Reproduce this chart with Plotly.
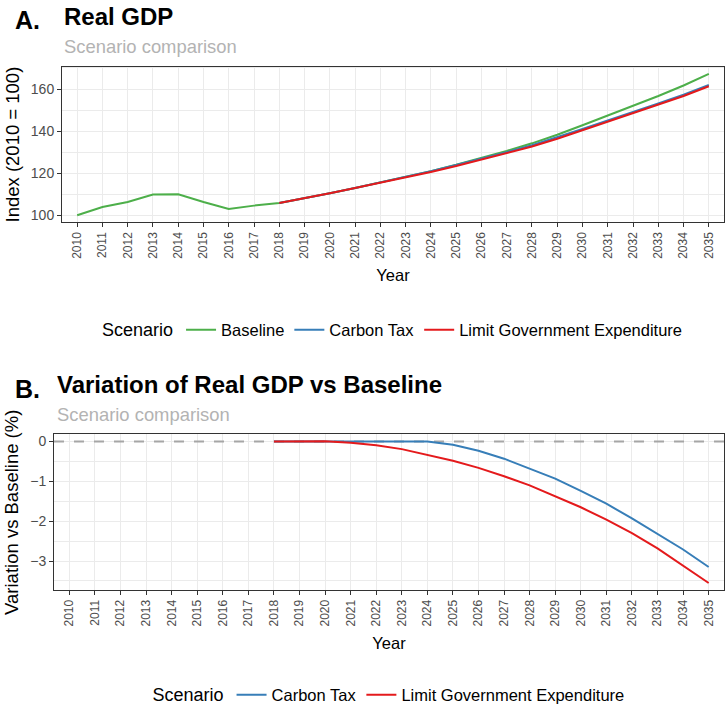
import plotly.graph_objects as go

# ---------------- data ----------------
years = list(range(2010, 2036))
years_scen = list(range(2018, 2036))

baseline = [100.0, 103.9, 106.3, 109.9, 110.0, 106.3, 103.0, 104.6, 105.8, 108.0,
            110.5, 113.0, 115.6, 118.2, 121.0, 124.0, 127.2, 130.6, 134.2, 138.3,
            142.8, 147.4, 151.9, 156.7, 161.7, 167.2]
carbon_tax = [105.8, 108.0, 110.5, 113.0, 115.6, 118.2, 121.0, 123.9, 126.9, 130.0,
              133.3, 137.0, 141.0, 145.1, 149.0, 153.1, 157.3, 161.9]
limit_gov = [105.8, 108.0, 110.5, 113.0, 115.5, 118.0, 120.6, 123.4, 126.4, 129.5,
             132.7, 136.4, 140.4, 144.5, 148.4, 152.5, 156.7, 161.3]

var_carbon_tax = [0.0, 0.0, 0.0, 0.0, 0.0, 0.0, 0.0, -0.08, -0.23, -0.43,
                  -0.67, -0.93, -1.24, -1.56, -1.93, -2.31, -2.71, -3.15]
var_limit_gov = [0.0, 0.0, 0.01, -0.03, -0.09, -0.19, -0.33, -0.48, -0.66, -0.87,
                 -1.10, -1.37, -1.65, -1.96, -2.30, -2.68, -3.11, -3.55]
reference_level = 0

year_ticks = years
a_yticks = [100, 120, 140, 160]
b_yticks = [0, -1, -2, -3]

colors = {"Baseline": "#4DAF4A", "Carbon Tax": "#377EB8",
          "Limit Government Expenditure": "#E41A1C"}

FONT = "Liberation Sans, Arial, Helvetica, sans-serif"
W, H = 725, 713
xrange = [2009.4, 2035.6]


def px_x(p):
    return p / W


def px_y(p):
    return 1 - p / H


fig = go.Figure()

# Panel A
fig.add_trace(go.Scatter(x=years, y=baseline, mode="lines", name="Baseline",
                         line=dict(color=colors["Baseline"], width=2),
                         xaxis="x", yaxis="y", legend="legend"))
fig.add_trace(go.Scatter(x=years_scen, y=carbon_tax, mode="lines", name="Carbon Tax",
                         line=dict(color=colors["Carbon Tax"], width=2),
                         xaxis="x", yaxis="y", legend="legend"))
fig.add_trace(go.Scatter(x=years_scen, y=limit_gov, mode="lines",
                         name="Limit Government Expenditure",
                         line=dict(color=colors["Limit Government Expenditure"], width=2),
                         xaxis="x", yaxis="y", legend="legend"))

# Panel B: zero reference line (across the full axis range), drawn first
fig.add_trace(go.Scatter(x=xrange, y=[reference_level, reference_level], mode="lines",
                         line=dict(color="#A6A6A6", width=2, dash="10px,10px"),
                         showlegend=False, hoverinfo="skip", xaxis="x2", yaxis="y2"))
fig.add_trace(go.Scatter(x=years_scen, y=var_carbon_tax, mode="lines", name="Carbon Tax",
                         line=dict(color=colors["Carbon Tax"], width=2),
                         xaxis="x2", yaxis="y2", legend="legend2"))
fig.add_trace(go.Scatter(x=years_scen, y=var_limit_gov, mode="lines",
                         name="Limit Government Expenditure",
                         line=dict(color=colors["Limit Government Expenditure"], width=2),
                         xaxis="x2", yaxis="y2", legend="legend2"))

axis_common = dict(
    showline=True, mirror=True, linecolor="#333333", linewidth=1,
    ticks="outside", ticklen=4, tickwidth=1, tickcolor="#333333",
    showgrid=True, gridcolor="#EBEBEB", gridwidth=1.2, zeroline=False,
)

xaxis_common = dict(axis_common, tickmode="array", tickvals=year_ticks,
                    ticktext=[str(y) for y in year_ticks], tickangle=-90,
                    tickfont=dict(family=FONT, size=12, color="#4D4D4D"),
                    range=xrange,
                    title=dict(text="Year", font=dict(family=FONT, size=16.5, color="#000000"),
                               standoff=11))
yminor = dict(showgrid=True, gridcolor="#EBEBEB", gridwidth=0.6)

fig.update_layout(
    width=W, height=H,
    margin=dict(l=0, r=0, t=0, b=0),
    paper_bgcolor="white", plot_bgcolor="white",
    font=dict(family=FONT),
    xaxis=dict(xaxis_common, domain=[px_x(62), px_x(724)], anchor="y"),
    yaxis=dict(axis_common, domain=[px_y(223), px_y(67)], anchor="x",
               range=[96.64, 170.56], tickmode="array", tickvals=a_yticks,
               tickfont=dict(family=FONT, size=14, color="#4D4D4D"),
               minor=dict(yminor, tickvals=[110, 130, 150, 170]),
               title=dict(text="Index (2010 = 100)",
                          font=dict(family=FONT, size=18.5, color="#000000"), standoff=6)),
    xaxis2=dict(xaxis_common, domain=[px_x(54), px_x(724)], anchor="y2"),
    yaxis2=dict(axis_common, domain=[px_y(591.7), px_y(435.7)], anchor="x2",
                range=[-3.7275, 0.1775], tickmode="array", tickvals=b_yticks,
                tickfont=dict(family=FONT, size=14, color="#4D4D4D"),
                minor=dict(yminor, tickvals=[-0.5, -1.5, -2.5, -3.5]),
                title=dict(text="Variation vs Baseline (%)",
                           font=dict(family=FONT, size=18.5, color="#000000"), standoff=6)),
    legend=dict(orientation="h", x=px_x(394), y=px_y(331), xanchor="center",
                yanchor="middle", title=dict(text="Scenario", side="left",
                                             font=dict(family=FONT, size=18, color="#000000")),
                font=dict(family=FONT, size=16.5, color="#000000"),
                bgcolor="rgba(0,0,0,0)"),
    legend2=dict(orientation="h", x=px_x(390), y=px_y(697), xanchor="center",
                 yanchor="middle", title=dict(text="Scenario", side="left",
                                              font=dict(family=FONT, size=18, color="#000000")),
                 font=dict(family=FONT, size=16.5, color="#000000"),
                 bgcolor="rgba(0,0,0,0)"),
)

annotations = [
    dict(text="<b>A.</b>", x=px_x(13), y=px_y(20), font=dict(size=25, color="#000000")),
    dict(text="<b>Real GDP</b>", x=px_x(62), y=px_y(17), font=dict(size=24, color="#000000")),
    dict(text="Scenario comparison", x=px_x(62), y=px_y(46.5),
         font=dict(size=18.4, color="#B3B3B3")),
    dict(text="<b>B.</b>", x=px_x(13), y=px_y(390), font=dict(size=25, color="#000000")),
    dict(text="<b>Variation of Real GDP vs Baseline</b>", x=px_x(55), y=px_y(386),
         font=dict(size=24, color="#000000")),
    dict(text="Scenario comparison", x=px_x(55), y=px_y(416),
         font=dict(size=18.4, color="#B3B3B3")),
]
for a in annotations:
    a.update(xref="paper", yref="paper", xanchor="left", yanchor="middle",
             showarrow=False)
    a["font"]["family"] = FONT
    fig.add_annotation(**a)

fig.write_html("out.html", config={"displayModeBar": False},
               post_script="document.body.style.margin='0';document.body.style.overflow='hidden';")
